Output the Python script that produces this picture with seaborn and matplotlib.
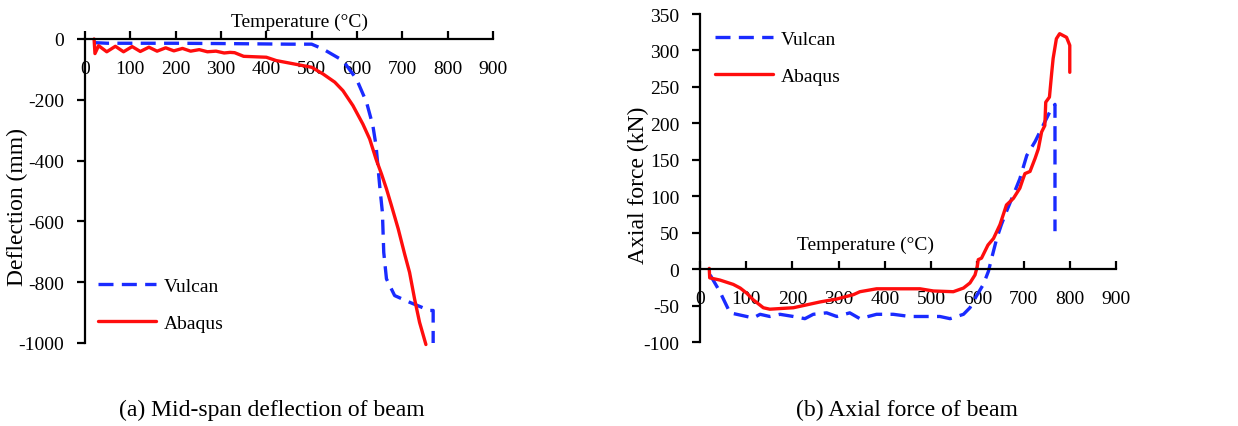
import matplotlib
matplotlib.use("Agg")
import matplotlib.pyplot as plt
import seaborn as sns
import pandas as pd

# ---------------- data ----------------
# (a) Mid-span deflection
defl_vulcan_T = [20, 50, 100, 200, 300, 380, 450, 500, 525, 569, 599, 621, 635, 642, 650, 656, 659, 665, 683, 716, 760, 768, 768]
defl_vulcan_D = [-12, -14, -14, -14, -15, -16, -17, -17, -33, -71, -132, -208, -285, -351, -482, -570, -702, -789, -844, -866, -893, -893, -1000]

defl_abaqus_T = [20, 22, 30, 48, 67, 85, 104, 122, 141, 159, 178, 196, 215, 233, 252, 270, 289, 307, 320, 330, 350, 400, 422, 500, 525, 551, 569, 591, 613, 628, 642, 654, 665, 676, 691, 705, 716, 727, 738, 752]
defl_abaqus_D = [0, -48, -22, -42, -24, -42, -25, -41, -27, -40, -29, -39, -31, -40, -35, -42, -40, -46, -44, -45, -57, -60, -71, -93, -115, -142, -170, -219, -280, -329, -395, -444, -493, -548, -625, -707, -768, -855, -932, -1005]

# (b) Axial force
axial_vulcan_T = [22, 43, 65, 101, 115, 130, 151, 173, 202, 227, 245, 274, 296, 324, 346, 382, 418, 454, 490, 519, 541, 570, 584, 598, 613, 624, 631, 642, 652, 663, 678, 692, 707, 725, 739, 757, 768, 768]
axial_vulcan_F = [-8, -31, -60, -65, -67, -62, -65, -62, -65, -68, -62, -60, -65, -60, -68, -62, -62, -65, -65, -65, -68, -62, -53, -37, -21, -3, 15, 42, 61, 79, 102, 124, 156, 175, 193, 216, 226, 52]

axial_abaqus_T = [20, 21, 43, 72, 87, 101, 115, 137, 151, 202, 231, 260, 296, 332, 346, 382, 476, 505, 548, 570, 584, 595, 600, 602, 609, 616, 623, 635, 649, 663, 678, 692, 699, 703, 714, 725, 732, 739, 746, 748, 756, 761, 764, 771, 778, 793, 800, 800]
axial_abaqus_F = [1, -12, -15, -21, -26, -33, -42, -53, -55, -53, -49, -45, -41, -35, -31, -27, -27, -30, -31, -26, -19, -8, 4, 13, 15, 24, 33, 42, 61, 88, 97, 111, 124, 131, 134, 152, 165, 188, 197, 229, 236, 270, 289, 316, 323, 318, 307, 270]

labels = ["Vulcan", "Abaqus"]
xticks = [0, 100, 200, 300, 400, 500, 600, 700, 800, 900]
yticks_a = [-1000, -800, -600, -400, -200, 0]
yticks_b = [-100, -50, 0, 50, 100, 150, 200, 250, 300, 350]

# ---------------- style ----------------
sns.set_style("ticks")
plt.rcParams["font.family"] = ["Liberation Serif", "DejaVu Serif"]
for k in ("text.color", "axes.labelcolor", "xtick.color", "ytick.color", "axes.edgecolor"):
    plt.rcParams[k] = "black"

BLUE = "#1a2bff"
RED = "#ff0d0d"
FS = 14

fig = plt.figure(figsize=(12.38, 4.27), dpi=100)
W, H = 1238, 427

def axes_px(x0, x1, ytop, ybot):
    return fig.add_axes([x0 / W, 1 - ybot / H, (x1 - x0) / W, (ybot - ytop) / H])

ax1 = axes_px(85, 493, 40, 344)
ax2 = axes_px(700, 1116, 15, 343)

def draw(ax, Tv, Yv, Ta, Ya):
    dv = pd.DataFrame({"T": Tv, "Y": Yv})
    da = pd.DataFrame({"T": Ta, "Y": Ya})
    sns.lineplot(data=dv, x="T", y="Y", ax=ax, color=BLUE, lw=2.4,
                 ls=(0, (4.5, 2.5)), sort=False, estimator=None, label=labels[0])
    sns.lineplot(data=da, x="T", y="Y", ax=ax, color=RED, lw=2.4,
                 sort=False, estimator=None, label=labels[1])

draw(ax1, defl_vulcan_T, defl_vulcan_D, defl_abaqus_T, defl_abaqus_D)
draw(ax2, axial_vulcan_T, axial_vulcan_F, axial_abaqus_T, axial_abaqus_F)

for ax, yt, ylim in [(ax1, yticks_a, (-1000, 0)), (ax2, yticks_b, (-100, 350))]:
    ax.spines["top"].set_visible(False)
    ax.spines["right"].set_visible(False)
    ax.spines["bottom"].set_position(("data", 0))
    for s in ("left", "bottom"):
        ax.spines[s].set_linewidth(1.6)
        ax.spines[s].set_color("black")
    ax.set_xlim(0, 900)
    ax.set_ylim(*ylim)
    ax.set_xticks(xticks)
    ax.set_yticks(yt)
    ax.set_xticklabels([str(v) for v in xticks])
    ax.set_yticklabels([str(v) for v in yt])
    ax.tick_params(axis="x", direction="in", length=6, width=1.6, pad=15,
                   colors="black", labelsize=FS)
    ax.tick_params(axis="y", direction="out", length=6, width=1.6, pad=9,
                   colors="black", labelsize=FS)
    ax.patch.set_alpha(0)
    for line in ax.get_lines():
        line.set_clip_on(False)

ax1.set_xlabel("Temperature (°C)", fontsize=FS)
ax1.xaxis.set_label_coords((300 - 85) / 408, 1 + (40 - 22) / 304)
ax1.xaxis.label.set_va("center")
ax1.set_ylabel("Deflection (mm)", fontsize=17)
ax1.yaxis.set_label_coords(-(85 - 17) / 408, (344 - 207) / 304)
ax1.yaxis.label.set_va("center")

ax2.set_xlabel("Temperature (°C)", fontsize=FS)
ax2.xaxis.set_label_coords((865 - 700) / 416, (343 - 245) / 328)
ax2.xaxis.label.set_va("center")
ax2.set_ylabel("Axial force (kN)", fontsize=17)
ax2.yaxis.set_label_coords(-(700 - 638) / 416, (343 - 185) / 328)
ax2.yaxis.label.set_va("center")

leg_kw = dict(frameon=False, fontsize=FS, handlelength=3.0, handletextpad=0.4,
              labelspacing=1.0, borderpad=0, borderaxespad=0, loc="center left")
ax1.legend(bbox_to_anchor=((98 - 85) / 408, (344 - 305.5) / 304), **leg_kw)
ax2.legend(bbox_to_anchor=((715 - 700) / 416, (343 - 58.5) / 328), **leg_kw)

fig.text(272 / W, 1 - 410 / H, "(a) Mid-span deflection of beam", fontsize=17,
         ha="center", va="center")
fig.text(907 / W, 1 - 410 / H, "(b) Axial force of beam", fontsize=17,
         ha="center", va="center")

fig.savefig("out.png", dpi=100, facecolor="white")
